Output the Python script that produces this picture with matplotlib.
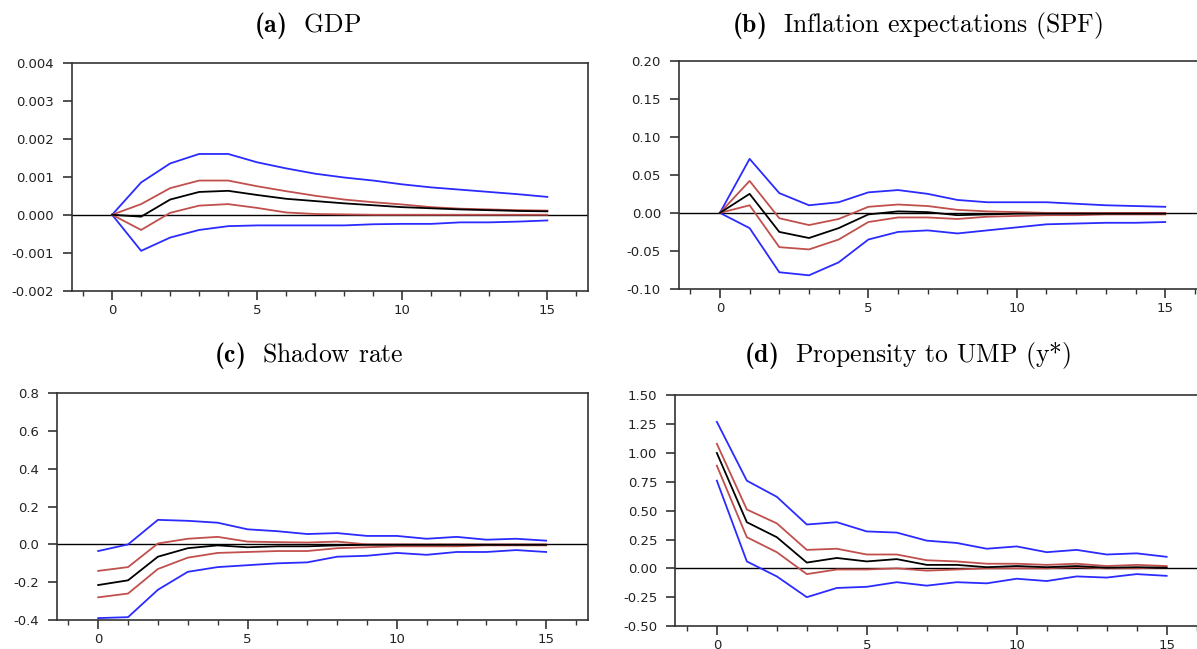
import numpy as np
import matplotlib
matplotlib.use('Agg')
import matplotlib.pyplot as plt
from matplotlib.ticker import FormatStrFormatter, MultipleLocator

plt.rcParams['font.family'] = ['DejaVu Sans']
plt.rcParams['mathtext.fontset'] = 'custom'
plt.rcParams['mathtext.rm'] = 'cmr10'
plt.rcParams['mathtext.bf'] = 'cmb10'
plt.rcParams['axes.unicode_minus'] = False

horizon = np.arange(16)

# (a) GDP
gdp_hi90 = [0, 0.00085, 0.00135, 0.0016, 0.0016, 0.00138, 0.00122, 0.00108, 0.00098,
            0.0009, 0.0008, 0.00072, 0.00066, 0.0006, 0.00054, 0.00047]
gdp_lo90 = [0, -0.00095, -0.0006, -0.0004, -0.0003, -0.00028, -0.00028, -0.00028, -0.00028,
            -0.00025, -0.00024, -0.00024, -0.0002, -0.0002, -0.00018, -0.00015]
gdp_hi68 = [0, 0.00028, 0.0007, 0.0009, 0.0009, 0.00075, 0.00062, 0.0005, 0.0004,
            0.00033, 0.00027, 0.0002, 0.00016, 0.00014, 0.00012, 0.00011]
gdp_lo68 = [0, -0.0004, 0.00005, 0.00024, 0.00028, 0.00018, 0.00006, 0.00002, 0.00001,
            0.0, 0.0, 0.0, 0.0, 0.0, 0.0, 0.0]
gdp_med = [0, -0.00005, 0.0004, 0.0006, 0.00063, 0.00052, 0.00042, 0.00036, 0.0003,
           0.00025, 0.0002, 0.00017, 0.00014, 0.00012, 0.0001, 0.00009]

# (b) Inflation expectations (SPF)
spf_hi90 = [0, 0.071, 0.026, 0.01, 0.014, 0.027, 0.03, 0.025, 0.017,
            0.014, 0.014, 0.014, 0.012, 0.01, 0.009, 0.008]
spf_lo90 = [0, -0.02, -0.078, -0.082, -0.065, -0.035, -0.025, -0.023, -0.027,
            -0.023, -0.019, -0.015, -0.014, -0.013, -0.013, -0.012]
spf_hi68 = [0, 0.042, -0.007, -0.016, -0.008, 0.008, 0.011, 0.009, 0.004,
            0.002, 0.001, 0.0, 0.0, 0.0, 0.0, 0.0]
spf_lo68 = [0, 0.01, -0.045, -0.048, -0.035, -0.012, -0.006, -0.006, -0.008,
            -0.005, -0.004, -0.003, -0.003, -0.002, -0.002, -0.002]
spf_med = [0, 0.025, -0.025, -0.033, -0.02, -0.002, 0.002, 0.001, -0.003,
           -0.002, -0.001, -0.001, -0.001, -0.001, -0.001, -0.001]

# (c) Shadow rate
sr_hi90 = [-0.035, 0.0, 0.13, 0.125, 0.115, 0.08, 0.07, 0.055, 0.06,
           0.045, 0.045, 0.03, 0.04, 0.025, 0.03, 0.02]
sr_lo90 = [-0.39, -0.385, -0.24, -0.145, -0.12, -0.11, -0.1, -0.095, -0.065,
           -0.06, -0.045, -0.055, -0.04, -0.04, -0.03, -0.04]
sr_hi68 = [-0.14, -0.12, 0.005, 0.03, 0.04, 0.015, 0.012, 0.01, 0.015,
           0.0, 0.0, 0.0, 0.0, 0.0, 0.0, 0.0]
sr_lo68 = [-0.28, -0.26, -0.13, -0.07, -0.045, -0.04, -0.035, -0.035, -0.02,
           -0.015, -0.01, -0.01, -0.01, -0.005, -0.005, -0.005]
sr_med = [-0.215, -0.19, -0.065, -0.02, -0.005, -0.015, -0.01, -0.01, -0.005,
          -0.002, -0.002, -0.002, -0.002, -0.002, -0.002, -0.002]

# (d) Propensity to UMP (y*)
ump_hi90 = [1.27, 0.76, 0.62, 0.38, 0.4, 0.32, 0.31, 0.24, 0.22,
            0.17, 0.19, 0.14, 0.16, 0.12, 0.13, 0.1]
ump_lo90 = [0.76, 0.06, -0.07, -0.25, -0.17, -0.16, -0.12, -0.15, -0.12,
            -0.13, -0.09, -0.11, -0.07, -0.08, -0.05, -0.065]
ump_hi68 = [1.08, 0.51, 0.39, 0.16, 0.17, 0.12, 0.12, 0.07, 0.06,
            0.04, 0.04, 0.03, 0.04, 0.02, 0.03, 0.02]
ump_lo68 = [0.89, 0.27, 0.14, -0.05, -0.01, -0.01, 0.0, -0.02, -0.01,
            0.0, 0.0, 0.0, 0.01, 0.0, 0.0, 0.01]
ump_med = [1.0, 0.4, 0.27, 0.05, 0.09, 0.06, 0.08, 0.03, 0.03,
           0.01, 0.02, 0.01, 0.02, 0.005, 0.01, 0.005]

panels = [
    dict(title=r'$\mathbf{(a)}$  GDP', data=(gdp_hi90, gdp_lo90, gdp_hi68, gdp_lo68, gdp_med),
         ylim=(-0.002, 0.004), step=0.001, fmt='%.3f',
         rect=[0.0602, 0.552, 0.431, 0.3513], tpos=(0.257, 0.960)),
    dict(title=r'$\mathbf{(b)}$  Inflation expectations (SPF)', data=(spf_hi90, spf_lo90, spf_hi68, spf_lo68, spf_med),
         ylim=(-0.10, 0.20), step=0.05, fmt='%.2f',
         rect=[0.5672, 0.5547, 0.441, 0.3518], tpos=(0.7665, 0.960)),
    dict(title=r'$\mathbf{(c)}$  Shadow rate', data=(sr_hi90, sr_lo90, sr_hi68, sr_lo68, sr_med),
         ylim=(-0.4, 0.8), step=0.2, fmt='%.1f',
         rect=[0.0476, 0.0447, 0.4436, 0.3493], tpos=(0.258, 0.4515)),
    dict(title=r'$\mathbf{(d)}$  Propensity to UMP (y*)', data=(ump_hi90, ump_lo90, ump_hi68, ump_lo68, ump_med),
         ylim=(-0.50, 1.50), step=0.25, fmt='%.2f',
         rect=[0.5643, 0.0354, 0.4454, 0.3555], tpos=(0.758, 0.4515)),
]

blue = '#2b2bff'
red = '#c0504d'
axis_col = '#333333'

fig = plt.figure(figsize=(11.97, 6.49), dpi=100)

for p in panels:
    ax = fig.add_axes(p['rect'])
    hi90, lo90, hi68, lo68, med = p['data']
    ax.axhline(0, color='black', lw=1.0)
    ax.plot(horizon, hi90, color=blue, lw=1.3)
    ax.plot(horizon, lo90, color=blue, lw=1.3)
    ax.plot(horizon, hi68, color=red, lw=1.3)
    ax.plot(horizon, lo68, color=red, lw=1.3)
    ax.plot(horizon, med, color='black', lw=1.3)
    ax.set_xlim(-1.38, 16.4)
    ax.set_ylim(*p['ylim'])
    ax.xaxis.set_major_locator(MultipleLocator(5))
    ax.xaxis.set_minor_locator(MultipleLocator(1))
    ax.yaxis.set_major_locator(MultipleLocator(p['step']))
    ax.yaxis.set_major_formatter(FormatStrFormatter(p['fmt']))
    ax.tick_params(axis='both', which='major', direction='out', length=6.5, width=1.2,
                   labelsize=9.5, color=axis_col, labelcolor='#222222')
    ax.tick_params(axis='y', which='major', pad=6.5)
    ax.tick_params(axis='x', which='major', pad=3)
    ax.tick_params(axis='x', which='minor', direction='out', length=3.5, width=1.0, color=axis_col)
    for s in ax.spines.values():
        s.set_linewidth(1.2)
        s.set_color(axis_col)
    fig.text(p['tpos'][0], p['tpos'][1], p['title'], ha='center', va='center',
             fontsize=18.5, family='cmr10')

fig.savefig('out.png', dpi=100)
